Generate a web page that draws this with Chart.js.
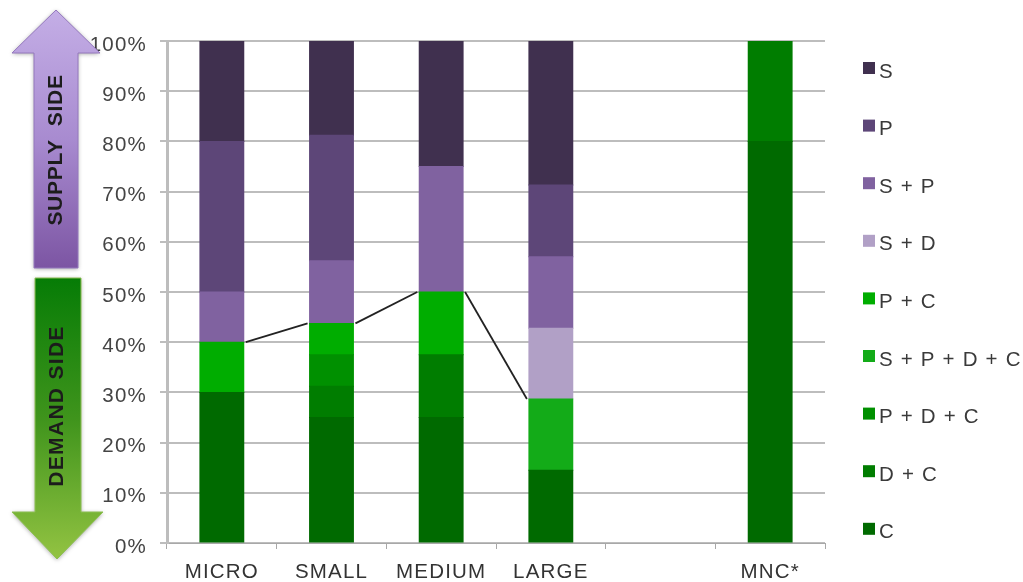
<!DOCTYPE html>
<html>
<head>
<meta charset="utf-8">
<title>Supply and demand side by firm size</title>
<script src="https://cdn.jsdelivr.net/npm/chart.js@4/dist/chart.umd.js"></script>
<style>
	html, body { margin: 0; background: #fff; }
	canvas { display: block; }
</style>
</head>
<body>
<canvas id="chart" width="1023" height="582"></canvas>
<script>
const categories = ['MICRO', 'SMALL', 'MEDIUM', 'LARGE', '', 'MNC*'];
const yTicks = [0, 10, 20, 30, 40, 50, 60, 70, 80, 90, 100];

// shares per size class, bottom of the stack first
const C = [30, 25, 25, 14.5, null, 80];
const DC = [null, 6.25, 12.5, null, null, 20];
const PDC = [null, 6.25, null, null, null, null];
const SPDC = [null, null, null, 14.2, null, null];
const PC = [10, 6.25, 12.5, null, null, null];
const SD = [null, null, null, 14.1, null, null];
const SP = [10, 12.5, 25, 14.2, null, null];
const P = [30, 25, null, 14.3, null, null];
const S = [20, 18.75, 25, 28.7, null, null];

// top of the demand side in the first four bars
const divide = [40, 43.75, 50, 28.7];

const seriesNames = ['C', 'D + C', 'P + D + C', 'S + P + D + C', 'P + C', 'S + D', 'S + P', 'P', 'S'];
const seriesValues = [C, DC, PDC, SPDC, PC, SD, SP, P, S];
const seriesColors = ['#006a00', '#007d00', '#009000', '#13ab18', '#00ad00', '#b1a0c6', '#8062a0', '#5d4678', '#40304f'];

const FONT = 'Liberation Sans, Arial, sans-serif';
const TEXT_SIZE = 20.5;
Chart.defaults.font.family = FONT;

function setSpacing(chart) {
	chart.ctx.letterSpacing = '1.2px';
}

// series lines between neighbouring bars
const divideLines = {
	id: 'divideLines',
	afterDatasetsDraw(chart) {
		const { ctx, scales } = chart;
		const bars = chart.getDatasetMeta(0).data;
		ctx.save();
		ctx.strokeStyle = '#222';
		ctx.lineWidth = 1.8;
		for (let i = 0; i < divide.length - 1; i++) {
			ctx.beginPath();
			ctx.moveTo(bars[i].x + bars[i].width / 2 + 2, scales.y.getPixelForValue(divide[i]));
			ctx.lineTo(bars[i + 1].x - bars[i + 1].width / 2 - 2, scales.y.getPixelForValue(divide[i + 1]));
			ctx.stroke();
		}
		ctx.restore();
	}
};

// legend column on the right, S at the top
const sideLegend = {
	id: 'sideLegend',
	afterDraw(chart) {
		const { ctx } = chart;
		ctx.save();
		ctx.font = TEXT_SIZE + 'px ' + FONT;
		ctx.textBaseline = 'middle';
		chart.data.datasets.slice().reverse().forEach((ds, i) => {
			const y = 71 + i * 57.6;
			ctx.fillStyle = ds.backgroundColor;
			ctx.fillRect(863, y - 9, 12, 12);
			ctx.fillStyle = '#3a3a3a';
			ctx.fillText(ds.label, 879, y + 1);
		});
		ctx.restore();
	}
};

function arrow(ctx, pts, top, bottom, stops, edge) {
	const grad = ctx.createLinearGradient(0, top, 0, bottom);
	stops.forEach((c, i) => grad.addColorStop(i / (stops.length - 1), c));
	ctx.save();
	ctx.shadowColor = 'rgba(0,0,0,0.35)';
	ctx.shadowBlur = 4;
	ctx.shadowOffsetY = 1;
	ctx.beginPath();
	pts.forEach((p, i) => i ? ctx.lineTo(p[0], p[1]) : ctx.moveTo(p[0], p[1]));
	ctx.closePath();
	ctx.fillStyle = grad;
	ctx.fill();
	ctx.shadowColor = 'transparent';
	ctx.strokeStyle = edge;
	ctx.lineWidth = 1;
	ctx.stroke();
	ctx.restore();
}

function sideText(ctx, text, x, y, spacing) {
	ctx.save();
	ctx.translate(x, y);
	ctx.rotate(-Math.PI / 2);
	ctx.font = 'bold 21px ' + FONT;
	ctx.letterSpacing = spacing;
	ctx.textAlign = 'center';
	ctx.textBaseline = 'middle';
	ctx.fillStyle = '#1c1c1c';
	ctx.fillText(text, 0, 0);
	ctx.restore();
}

// the two big arrows left of the axis
const sideArrows = {
	id: 'sideArrows',
	afterDraw(chart) {
		const { ctx } = chart;
		arrow(ctx, [[56, 10], [100, 53], [78, 53], [78, 268], [34, 268], [34, 53], [12, 53]], 10, 268,
			['#c4aee6', '#a88bd0', '#7c55a3'], '#9478bd');
		arrow(ctx, [[35, 278], [81, 278], [81, 512], [103, 512], [57, 559], [12, 512], [35, 512]], 278, 559,
			['#067c06', '#3f941c', '#93c342'], '#8cbf52');
		sideText(ctx, 'SUPPLY  SIDE', 56, 150, '0.7px');
		sideText(ctx, 'DEMAND SIDE', 57, 406, '1.3px');
	}
};

new Chart(document.getElementById('chart'), {
	type: 'bar',
	data: {
		labels: categories,
		datasets: seriesNames.map((name, i) => ({
			label: name,
			data: seriesValues[i],
			backgroundColor: seriesColors[i],
			borderWidth: 0,
			inflateAmount: 0.5,
			barPercentage: 0.4,
			categoryPercentage: 1
		}))
	},
	plugins: [
		{ id: 'spacing', beforeLayout: setSpacing, beforeDraw: setSpacing },
		divideLines, sideLegend, sideArrows
	],
	options: {
		responsive: false,
		animation: false,
		layout: { padding: { top: 41, right: 198 } },
		plugins: {
			legend: { display: false },
			tooltip: { enabled: false }
		},
		scales: {
			x: {
				stacked: true,
				afterFit(axis) { axis.height = 39; },
				grid: { drawOnChartArea: false, color: '#a8a8a8', tickLength: 6, lineWidth: 1 },
				border: { color: '#a8a8a8', width: 1 },
				ticks: { color: '#333', font: { size: TEXT_SIZE }, padding: 11, autoSkip: false, maxRotation: 0 }
			},
			y: {
				stacked: true,
				min: 0,
				max: 100,
				afterFit(axis) { axis.width = 167; },
				afterBuildTicks(axis) { axis.ticks = yTicks.map(value => ({ value })); },
				grid: { color: '#bdbdbd', lineWidth: 2, tickLength: 7 },
				border: { color: '#bdbdbd', width: 3 },
				ticks: {
					color: '#444',
					font: { size: TEXT_SIZE },
					padding: 13,
					labelOffset: 4,
					callback: v => v + '%'
				}
			}
		}
	}
});
</script>
</body>
</html>
